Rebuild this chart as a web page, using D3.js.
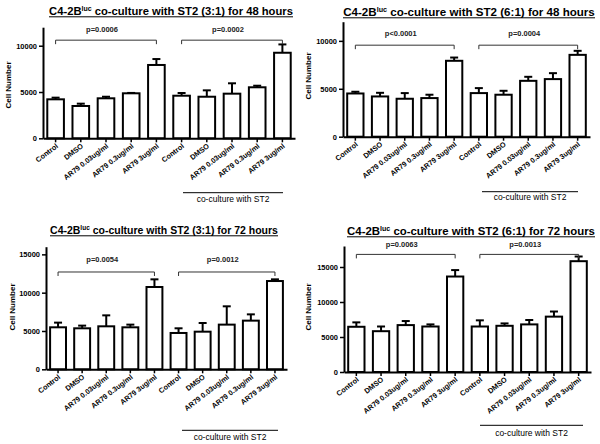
<!DOCTYPE html>
<html><head><meta charset="utf-8">
<script src="https://cdn.jsdelivr.net/npm/d3@7"></script>
<style>
html,body{margin:0;padding:0;background:#fff;}
svg{display:block;}
text{font-family:"Liberation Sans",Arial,sans-serif;}
</style></head>
<body>
<script>
// ---------- DATA ----------
const categories = ["Control","DMSO","AR79 0.03ug/ml","AR79 0.3ug/ml","AR79 3ug/ml",
                    "Control","DMSO","AR79 0.03ug/ml","AR79 0.3ug/ml","AR79 3ug/ml"];
const groupLabel = "co-culture with ST2";
const ratios = ["3:1","6:1","3:1","6:1"];
const durations = ["48","48","72","72"];
const yTicks48 = [0,5000,10000];
const yTicks72 = [0,5000,10000,15000];
const yMax = [12000,12000,16000,18000];

const mean48_31 = [4210,3490,4320,4860,7920,4600,4490,4820,5510,9240];
const err48_31  = [180,250,170,40,640,290,690,1120,170,900];
const mean48_61 = [4510,4200,3960,4030,7920,4550,4380,5830,6010,8540];
const err48_61  = [180,380,590,350,340,520,410,420,620,420];
const mean72_31 = [5480,5350,5610,5480,10740,4740,4910,5830,6350,11520];
const err72_31  = [610,350,1430,350,1000,610,1130,2390,820,220];
const mean72_61 = [6460,5830,6700,6500,13640,6500,6600,6800,7910,15830];
const err72_61  = [630,670,580,300,920,880,340,630,730,670];

const pLabels48_31 = ["p=0.0006","p=0.0002"];
const pLabels48_61 = ["p<0.0001","p=0.0004"];
const pLabels72_31 = ["p=0.0054","p=0.0012"];
const pLabels72_61 = ["p=0.0063","p=0.0013"];
const bracketLevel = [10600, 9550, 12700, 16800];   // y value of the comparison brackets
const bracketPairs = [[0,4],[5,9]];

// ---------- LAYOUT ----------
const layouts = [
  {x0:43, x1:295, y0:138.3, yTop:27.2, tx:171, ty:15, tw:244, lx:8, ly:85, gy:192.7, gx0:183, gx1:283, gty:202, py:32},
  {x0:343, x1:590, y0:136.7, yTop:21.7, tx:469, ty:16, tw:252, lx:308, ly:76, gy:191.7, gx0:482, gx1:578, gty:199.5, py:36},
  {x0:46, x1:287, y0:369.3, yTop:246.7, tx:164, ty:234, tw:228, lx:12, ly:307, gy:430.3, gx0:182, gx1:278, gty:439.5, py:262},
  {x0:344, x1:591, y0:372, yTop:246, tx:471, ty:235, tw:248, lx:308, ly:307, gy:425.3, gx0:480, gx1:583, gty:435.5, py:247}
];
const panels = [
  {means:mean48_31, errs:err48_31, p:pLabels48_31, ticks:yTicks48},
  {means:mean48_61, errs:err48_61, p:pLabels48_61, ticks:yTicks48},
  {means:mean72_31, errs:err72_31, p:pLabels72_31, ticks:yTicks72},
  {means:mean72_61, errs:err72_61, p:pLabels72_61, ticks:yTicks72}
];

const svg = d3.select("body").append("svg").attr("width",600).attr("height",444);

panels.forEach((pd, k) => {
  const L = layouts[k];
  const g = svg.append("g");
  const idx = d3.range(categories.length);
  const x = d3.scaleBand().domain(idx).range([L.x0, L.x1]).paddingInner(0.34).paddingOuter(0.17);
  const y = d3.scaleLinear().domain([0, yMax[k]]).range([L.y0, L.yTop]);

  // title
  const t = g.append("text").attr("x", L.tx).attr("y", L.ty).attr("text-anchor","middle")
    .attr("font-weight","bold").attr("font-size",12);
  t.append("tspan").text("C4-2B");
  t.append("tspan").attr("font-size","0.62em").attr("dy",-4).text("luc");
  t.append("tspan").attr("dy",4).text(` co-culture with ST2 (${ratios[k]}) for ${durations[k]} hours`);
  const w = t.node().getComputedTextLength();
  t.attr("font-size", 12 * L.tw / w);
  g.append("line").attr("x1", L.tx - L.tw/2).attr("x2", L.tx + L.tw/2)
    .attr("y1", L.ty + 1.8).attr("y2", L.ty + 1.8).attr("stroke","#000").attr("stroke-width",1);

  // y label
  g.append("text").attr("transform",`translate(${L.lx},${L.ly}) rotate(-90)`)
    .attr("text-anchor","middle").attr("dy","0.35em").attr("font-weight","bold").attr("font-size",8)
    .text("Cell Number");

  // bars
  g.selectAll("rect.bar").data(idx).join("rect")
    .attr("x", i => x(i)).attr("width", x.bandwidth())
    .attr("y", i => y(pd.means[i])).attr("height", i => y(0) - y(pd.means[i]))
    .attr("fill","#fff").attr("stroke","#000").attr("stroke-width",2);

  // error bars (upper)
  const eg = g.selectAll("g.err").data(idx).join("g");
  eg.append("line").attr("x1", i => x(i)+x.bandwidth()/2).attr("x2", i => x(i)+x.bandwidth()/2)
    .attr("y1", i => y(pd.means[i])).attr("y2", i => y(pd.means[i]+pd.errs[i]))
    .attr("stroke","#000").attr("stroke-width",2);
  eg.append("line").attr("x1", i => x(i)+x.bandwidth()/2-4).attr("x2", i => x(i)+x.bandwidth()/2+4)
    .attr("y1", i => y(pd.means[i]+pd.errs[i])).attr("y2", i => y(pd.means[i]+pd.errs[i]))
    .attr("stroke","#000").attr("stroke-width",2);

  // axes
  const ya = g.append("g").attr("transform",`translate(${L.x0},0)`)
    .call(d3.axisLeft(y).tickValues(pd.ticks).tickSize(4).tickSizeOuter(0).tickPadding(2).tickFormat(d3.format("d")));
  ya.select(".domain").attr("stroke-width",2);
  ya.selectAll(".tick line").attr("stroke-width",1.5);
  ya.selectAll("text").attr("font-size",7.5).attr("font-weight","bold").attr("font-family","Liberation Sans, Arial, sans-serif");

  const xa = g.append("g").attr("transform",`translate(0,${L.y0})`)
    .call(d3.axisBottom(x).tickSize(4).tickSizeOuter(0).tickFormat(i => categories[i]));
  xa.select(".domain").attr("stroke-width",2);
  xa.selectAll(".tick line").attr("stroke-width",1.5);
  xa.selectAll("text").attr("font-size",7.3).attr("font-weight","bold")
    .attr("font-family","Liberation Sans, Arial, sans-serif")
    .attr("text-anchor","end").attr("dy","0.35em").attr("y",6).attr("x",-3)
    .attr("transform","rotate(-38)");

  // brackets
  bracketPairs.forEach((pr, j) => {
    const xa1 = x(pr[0]) + x.bandwidth()/2, xb1 = x(pr[1]) + x.bandwidth()/2;
    const by = y(bracketLevel[k]);
    g.append("path").attr("d", `M${xa1},${by+4}V${by}H${xb1}V${by+4}`)
      .attr("fill","none").attr("stroke","#333").attr("stroke-width",1);
    g.append("text").attr("x",(xa1+xb1)/2 - 4).attr("y", L.py).attr("text-anchor","middle")
      .attr("font-size",7.5).attr("font-weight","bold").attr("fill","#222").text(pd.p[j]);
  });

  // group label
  g.append("line").attr("x1",L.gx0).attr("x2",L.gx1).attr("y1",L.gy).attr("y2",L.gy)
    .attr("stroke","#000").attr("stroke-width",1);
  g.append("text").attr("x",(L.gx0+L.gx1)/2).attr("y",L.gty).attr("text-anchor","middle")
    .attr("font-size",8.5).text(groupLabel);
});
</script>
</body></html>
